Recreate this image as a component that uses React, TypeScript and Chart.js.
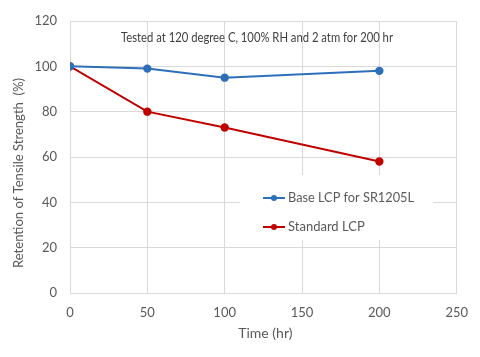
import React, { useEffect, useRef } from "react";
import { Chart, registerables } from "chart.js";

Chart.register(...registerables);

const timeHours = [0, 50, 100, 200];
const baseLcp = [100, 99, 95, 98];
const standardLcp = [100, 80, 73, 58];
const seriesNames = ["Base LCP for SR1205L", "Standard LCP"];
const noteText = "Tested at 120 degree C, 100% RH and 2 atm for 200 hr";
const xTitle = "Time (hr)";
const yTitle = "Retention of Tensile Strength  (%)";

const FONT = "Lato, 'Open Sans', sans-serif";
const TEXT = "#595959";
const GRID = "#d9d9d9";
const BLUE = "#2e6fba";
const RED = "#c00000";

const overlayPlugin = {
  id: "overlay",
  afterDatasetsDraw(chart: any) {
    const ctx = chart.ctx;
    const area = chart.chartArea;
    ctx.save();
    // note text
    ctx.font = `13px ${FONT}`;
    ctx.fillStyle = "#404040";
    ctx.textAlign = "left";
    ctx.textBaseline = "middle";
    ctx.fillText(noteText, area.left + 51, area.top + 17, 272);
    // legend box
    const bx = area.left + 170;
    const by = area.top + 154;
    ctx.fillStyle = "#ffffff";
    ctx.fillRect(bx, by, 193, 65);
    ctx.font = `13px ${FONT}`;
    chart.data.datasets.forEach((ds: any, i: number) => {
      const y = by + 23 + i * 29;
      const x0 = bx + 23;
      ctx.strokeStyle = ds.borderColor;
      ctx.lineWidth = 2;
      ctx.beginPath();
      ctx.moveTo(x0, y);
      ctx.lineTo(x0 + 22, y);
      ctx.stroke();
      ctx.fillStyle = ds.borderColor;
      ctx.beginPath();
      ctx.arc(x0 + 11, y, 3, 0, Math.PI * 2);
      ctx.fill();
      ctx.fillStyle = TEXT;
      ctx.textAlign = "left";
      ctx.fillText(ds.label, x0 + 25, y, 126);
    });
    // axis titles
    ctx.fillStyle = TEXT;
    ctx.font = `14px ${FONT}`;
    ctx.textAlign = "center";
    ctx.textBaseline = "middle";
    ctx.fillText(xTitle, (area.left + area.right) / 2 + 2, area.bottom + 40);
    ctx.save();
    ctx.translate(18, area.top + 152);
    ctx.rotate(-Math.PI / 2);
    ctx.fillText(yTitle, 0, 0, 190);
    ctx.restore();
    ctx.restore();
  },
};

export default function App() {
  const ref = useRef<HTMLCanvasElement | null>(null);
  useEffect(() => {
    if (!ref.current) return;
    const mk = (vals: number[]) => timeHours.map((x, i) => ({ x, y: vals[i] }));
    const chart = new Chart(ref.current, {
      type: "line",
      data: {
        datasets: [
          {
            label: seriesNames[0],
            data: mk(baseLcp),
            borderColor: BLUE,
            backgroundColor: BLUE,
            borderWidth: 2,
            pointRadius: 3.2,
            pointHoverRadius: 3.2,
          },
          {
            label: seriesNames[1],
            data: mk(standardLcp),
            borderColor: RED,
            backgroundColor: RED,
            borderWidth: 2,
            pointRadius: 3.2,
            pointHoverRadius: 3.2,
          },
        ],
      },
      options: {
        animation: false,
        responsive: false,
        maintainAspectRatio: false,
        layout: { padding: { left: 0, right: 23, top: 21, bottom: 0 } },
        plugins: { legend: { display: false }, tooltip: { enabled: false } },
        scales: {
          x: {
            type: "linear",
            min: 0,
            max: 250,
            ticks: { stepSize: 50, color: TEXT, font: { family: FONT, size: 13 }, padding: 12 },
            grid: { color: GRID, drawTicks: false },
            border: { color: GRID },
            afterFit: (s: any) => { s.height = 64; },
          },
          y: {
            min: 0,
            max: 120,
            ticks: { stepSize: 20, color: TEXT, font: { family: FONT, size: 13 }, padding: 13 },
            grid: { color: GRID, drawTicks: false },
            border: { color: GRID },
            afterFit: (s: any) => { s.width = 70; },
          },
        },
      },
      plugins: [overlayPlugin],
    });
    return () => chart.destroy();
  }, []);
  return (
    <div style={{ position: "fixed", left: 0, top: 0, width: 480, height: 357, background: "#fff" }}>
      <canvas ref={ref} width={480} height={357} style={{ width: 480, height: 357 }} />
    </div>
  );
}
